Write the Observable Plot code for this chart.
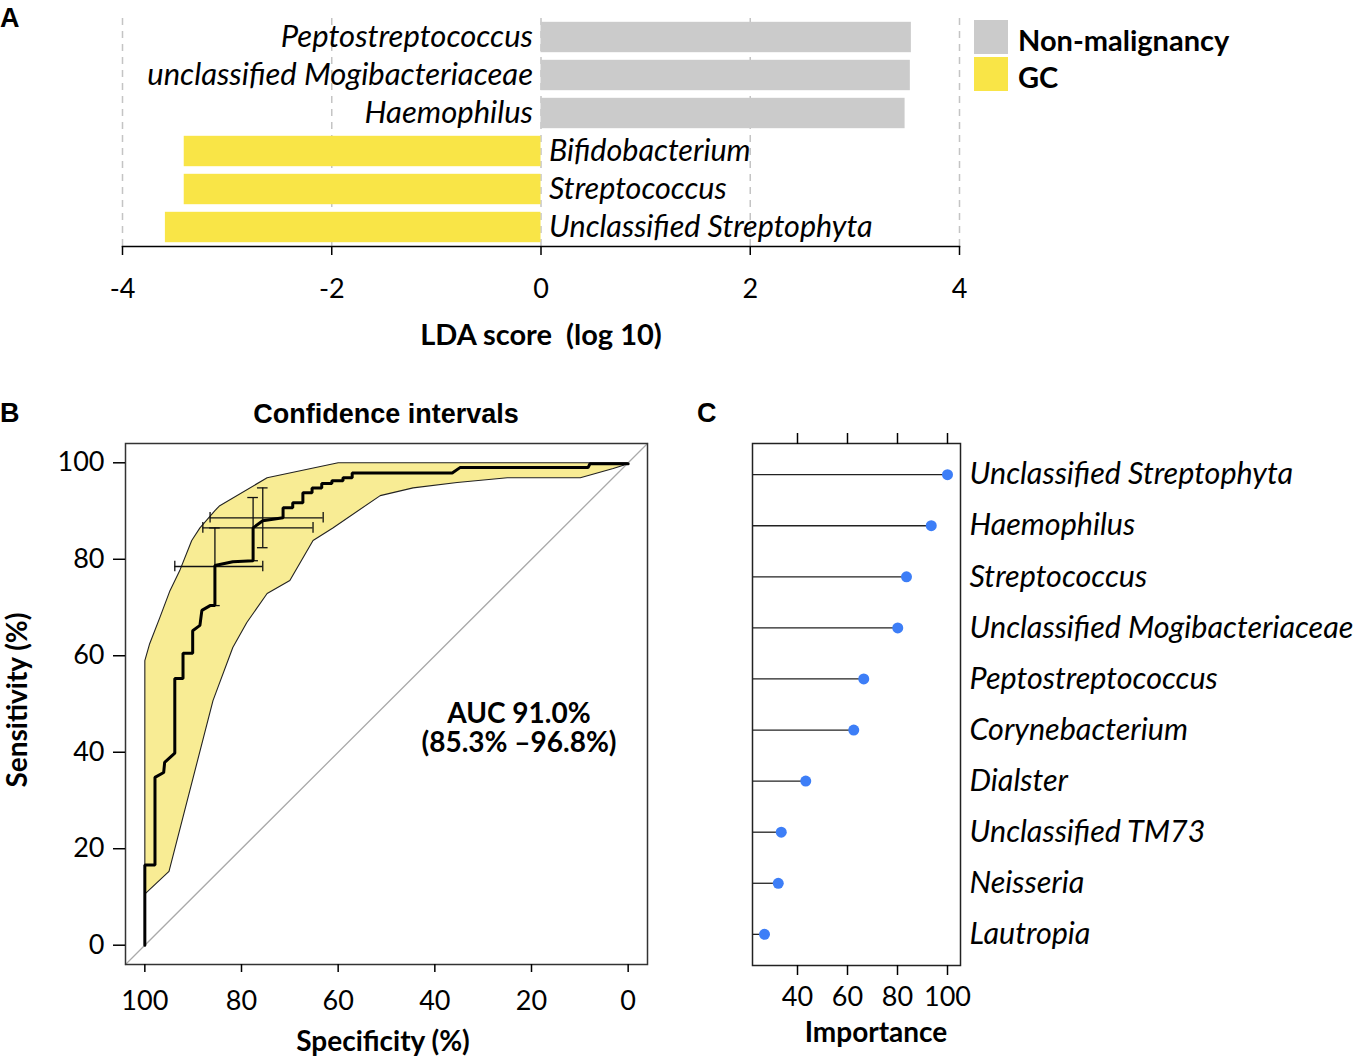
<!DOCTYPE html>
<html>
<head>
<meta charset="utf-8">
<script src="https://cdn.jsdelivr.net/npm/d3@7"></script>
<script src="https://cdn.jsdelivr.net/npm/@observablehq/plot@0.6"></script>
<style>
  html, body { margin: 0; padding: 0; background: #fff; }
  #root { position: relative; width: 1359px; height: 1057px; overflow: hidden; background: #fff; }
  .abs { position: absolute; line-height: 1; white-space: pre; color: #000; }
  .c { transform: translate(-50%, -50%); }
  .l { transform: translate(0, -50%); }
  .lato { font-family: Lato, "Noto Sans", sans-serif; }
  .arial { font-family: "Liberation Sans", Arial, sans-serif; font-weight: bold; }
  .plot { position: absolute; }
  .plot svg { overflow: visible; }
</style>
</head>
<body>
<div id="root"></div>
<script>
// ---------------- Panel A data (LEfSe LDA) ----------------
const taxaA = ["Peptostreptococcus", "unclassified Mogibacteriaceae", "Haemophilus", "Bifidobacterium", "Streptococcus", "Unclassified Streptophyta"];
const ldaA = [3.54, 3.53, 3.48, -3.41, -3.41, -3.59];
const groupA = ["Non-malignancy", "Non-malignancy", "Non-malignancy", "GC", "GC", "GC"];
const groupsA = ["Non-malignancy", "GC"];
const groupColors = ["#cbcbcb", "#f9e547"];
const ldaTicks = [-4, -2, 0, 2, 4];

// ---------------- Panel B data (ROC) ----------------
const rocSpec = [100, 100, 97.9, 97.9, 96.1, 95.9, 93.8, 93.8, 92.1, 92.1, 90.1, 90.1, 88.6, 88.2, 86.5, 85.5, 85.5, 81.8, 77.6, 77.6, 75.6, 71.4, 71.4, 69.4, 69.4, 67.3, 67.3, 65.4, 65.4, 63.4, 63.4, 61.3, 61.3, 59.0, 59.0, 57.1, 57.1, 36.4, 34.8, 8.3, 7.9, 0];
const rocSens = [0, 16.6, 16.6, 34.8, 35.8, 37.9, 39.8, 55.3, 55.3, 60.5, 60.5, 65.2, 66.3, 69.4, 70.4, 70.4, 78.7, 79.5, 79.7, 86.5, 88.0, 88.6, 90.7, 90.7, 91.7, 91.7, 93.8, 93.8, 94.8, 94.8, 95.7, 95.7, 96.3, 96.3, 96.9, 96.9, 97.9, 97.9, 99.0, 99.0, 99.8, 99.8];
// confidence band outline: upper edge (incl. left side), then lower edge back
const bandUpperSpec = [100, 100, 99.0, 96.9, 94.8, 92.8, 90.3, 88.6, 85.5, 84.5, 74.7, 60.0, 0];
const bandUpperSens = [10.8, 59.0, 62.5, 67.9, 73.5, 77.6, 83.9, 86.5, 90.1, 91.1, 96.9, 100, 100];
const bandLowerSpec = [0, 3.1, 9.9, 25.0, 35.4, 44.5, 51.3, 61.1, 65.2, 70.0, 74.7, 78.9, 81.8, 84.9, 85.9, 95.0, 99.8];
const bandLowerSens = [99.8, 98.8, 96.9, 96.9, 95.9, 94.8, 93.2, 86.5, 83.9, 75.6, 72.9, 66.9, 61.7, 53.4, 50.7, 15.3, 10.8];
// threshold confidence crosses
const ciPtSpec = [85.5, 77.6, 75.6];
const ciPtSens = [78.5, 86.5, 88.6];
const ciSpecLo = [93.8, 88.0, 86.5];
const ciSpecHi = [75.6, 65.2, 63.1];
const ciSensLo = [70.4, 79.7, 82.4];
const ciSensHi = [86.5, 92.8, 94.8];
const rocTicks = [0, 20, 40, 60, 80, 100];
const rocDomain = [104, -4];

// ---------------- Panel C data (importance) ----------------
const taxaC = ["Unclassified Streptophyta", "Haemophilus", "Streptococcus", "Unclassified Mogibacteriaceae", "Peptostreptococcus", "Corynebacterium", "Dialster", "Unclassified TM73", "Neisseria", "Lautropia"];
const impC = [100, 93.5, 83.6, 80.1, 66.5, 62.5, 43.3, 33.5, 32.3, 26.8];
const impTicks = [40, 60, 80, 100];
const impDomain = [22, 105.2];

const FS = 27;
const LBL = 31;
const root = document.getElementById("root");

function place(el, left, top) {
  const w = document.createElement("div");
  w.className = "plot";
  w.style.left = left + "px";
  w.style.top = top + "px";
  w.appendChild(el);
  root.appendChild(w);
}
function label(text, x, y, cls, extra) {
  const d = document.createElement("div");
  d.className = "abs " + cls;
  d.textContent = text;
  d.style.left = x + "px";
  d.style.top = y + "px";
  Object.assign(d.style, extra || {});
  root.appendChild(d);
  return d;
}

// ---------------- Panel A ----------------
const dataA = taxaA.map((t, i) => ({taxon: t, lda: ldaA[i], group: groupA[i]}));
const plotA = Plot.plot({
  width: 1000, height: 310,
  marginLeft: 122, marginRight: 41, marginTop: 18, marginBottom: 64,
  style: {fontFamily: "Lato, sans-serif", fontSize: FS + "px", background: "transparent", overflow: "visible"},
  x: {domain: [-4, 4]},
  y: {domain: taxaA, paddingInner: 0.2, paddingOuter: 0.1, round: false, axis: null},
  color: {domain: groupsA, range: groupColors},
  marks: [
    Plot.ruleX(ldaTicks, {stroke: "#c4c4c4", strokeWidth: 1.5, strokeDasharray: "7,6"}),
    Plot.barX(dataA, {x: "lda", y: "taxon", fill: "group"}),
    Plot.text(dataA.filter(d => d.lda > 0), {x: 0, y: "taxon", text: "taxon", textAnchor: "end", dx: -8, fontStyle: "italic", fontSize: LBL, fill: "#000"}),
    Plot.text(dataA.filter(d => d.lda < 0), {x: 0, y: "taxon", text: "taxon", textAnchor: "start", dx: 8, fontStyle: "italic", fontSize: 30.5, fill: "#000"}),
    Plot.frame({anchor: "bottom", stroke: "#000", strokeWidth: 1.5}),
    Plot.axisX(ldaTicks, {tickSize: 9, tickPadding: 23, fontSize: FS, tickFormat: d => String(d), label: null, stroke: "#000", strokeWidth: 1.5})
  ]
});
place(plotA, 0, 0);

// legend
groupsA.forEach((g, i) => {
  const sq = document.createElement("div");
  sq.style.cssText = `position:absolute;left:974px;top:${20 + i * 37}px;width:34px;height:34px;background:${groupColors[i]};`;
  root.appendChild(sq);
  label(g, 1018, 39 + i * 37, "l lato", {fontWeight: "bold", fontSize: "29px"});
});
label("LDA score  (log 10)", 541, 333, "c lato", {fontWeight: "bold", fontSize: "29px"});
label("A", 0, 18, "l arial", {fontSize: "27px"});

// ---------------- Panel B ----------------
const rocData = rocSpec.map((s, i) => ({spec: s, sens: rocSens[i]}));
const bandData = bandUpperSpec.map((s, i) => ({spec: s, sens: bandUpperSens[i]}))
  .concat(bandLowerSpec.map((s, i) => ({spec: s, sens: bandLowerSens[i]})));
const ciData = ciPtSpec.map((s, i) => ({spec: s, sens: ciPtSens[i], sp1: ciSpecLo[i], sp2: ciSpecHi[i], se1: ciSensLo[i], se2: ciSensHi[i]}));
const diag = rocDomain.map(s => ({spec: s, sens: 100 - s}));
const cap = 1.1;
const plotB = Plot.plot({
  width: 680, height: 600,
  marginLeft: 125, marginRight: 33, marginTop: 13, marginBottom: 66,
  style: {fontFamily: "Lato, sans-serif", fontSize: FS + "px", background: "transparent", overflow: "visible"},
  x: {domain: rocDomain},
  y: {domain: [-4, 104]},
  marks: [
    Plot.line(bandData, {x: "spec", y: "sens", fill: "#f8ec94", stroke: "#222", strokeWidth: 1.1}),
    Plot.line(diag, {x: "spec", y: "sens", stroke: "#aaaaaa", strokeWidth: 1.3}),
    Plot.ruleY(ciData, {y: "sens", x1: "sp1", x2: "sp2", stroke: "#111", strokeWidth: 1.3}),
    Plot.ruleX(ciData, {x: "spec", y1: "se1", y2: "se2", stroke: "#111", strokeWidth: 1.3}),
    Plot.ruleX(ciData, {x: "sp1", y1: d => d.sens - cap, y2: d => d.sens + cap, stroke: "#111", strokeWidth: 1.3}),
    Plot.ruleX(ciData, {x: "sp2", y1: d => d.sens - cap, y2: d => d.sens + cap, stroke: "#111", strokeWidth: 1.3}),
    Plot.ruleY(ciData, {y: "se1", x1: d => d.spec - cap, x2: d => d.spec + cap, stroke: "#111", strokeWidth: 1.3}),
    Plot.ruleY(ciData, {y: "se2", x1: d => d.spec - cap, x2: d => d.spec + cap, stroke: "#111", strokeWidth: 1.3}),
    Plot.line(rocData, {x: "spec", y: "sens", stroke: "#000", strokeWidth: 3, strokeLinejoin: "miter"}),
    Plot.frame({stroke: "#333", strokeWidth: 1.5}),
    Plot.axisX(rocTicks, {tickSize: 8, tickPadding: 18, fontSize: FS, label: null, stroke: "#000", strokeWidth: 1.5}),
    Plot.axisY(rocTicks, {tickSize: 12, tickPadding: 9, fontSize: FS, label: null, stroke: "#000", strokeWidth: 1.5})
  ]
});
place(plotB, 0, 430);

label("B", 0, 413, "l arial", {fontSize: "27px"});
label("Confidence intervals", 386, 414, "c arial", {fontSize: "27px"});
label("AUC 91.0%\n(85.3% \u201396.8%)", 519, 727, "c lato", {fontWeight: "bold", fontSize: "28px", lineHeight: "29px", textAlign: "center"});
label("Sensitivity (%)", 16, 700, "c lato", {fontWeight: "bold", fontSize: "28px", transform: "translate(-50%, -50%) rotate(-90deg)"});
label("Specificity (%)", 383, 1040, "c lato", {fontWeight: "bold", fontSize: "28px"});

// ---------------- Panel C ----------------
const dataC = taxaC.map((t, i) => ({taxon: t, imp: impC[i]}));
const plotC = Plot.plot({
  width: 659, height: 600,
  marginLeft: 52, marginRight: 399, marginTop: 23, marginBottom: 55,
  style: {fontFamily: "Lato, sans-serif", fontSize: FS + "px", background: "transparent", overflow: "visible"},
  x: {domain: impDomain},
  y: {type: "point", domain: taxaC, padding: 0.61, round: false, axis: null},
  marks: [
    Plot.ruleY(dataC, {y: "taxon", x1: impDomain[0], x2: "imp", stroke: "#222", strokeWidth: 1.3}),
    Plot.dot(dataC, {y: "taxon", x: "imp", r: 5.5, fill: "#3d7ef7", stroke: "none"}),
    Plot.text(dataC, {y: "taxon", text: "taxon", frameAnchor: "right", dx: 9, textAnchor: "start", fontStyle: "italic", fontSize: 30.5, fill: "#000"}),
    Plot.frame({stroke: "#222", strokeWidth: 1.5}),
    Plot.axisX(impTicks, {anchor: "bottom", tickSize: 10, tickPadding: 11, fontSize: FS, label: null, stroke: "#000", strokeWidth: 1.5}),
    Plot.axisX(impTicks, {anchor: "top", tickSize: 11, tickFormat: () => "", label: null, stroke: "#000", strokeWidth: 1.5})
  ]
});
place(plotC, 700, 420);

label("C", 697, 413, "l arial", {fontSize: "27px"});
label("Importance", 876, 1031, "c lato", {fontWeight: "bold", fontSize: "28px"});
</script>
</body>
</html>
